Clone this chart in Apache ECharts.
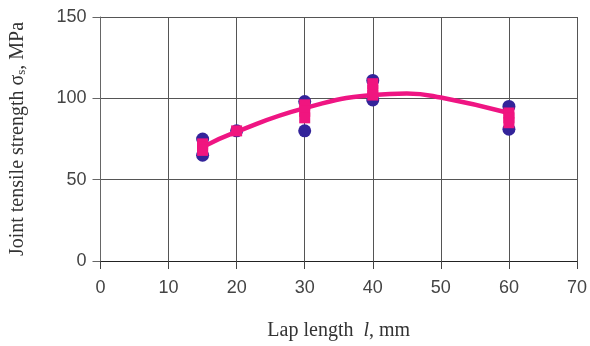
<!DOCTYPE html>
<html><head><meta charset="utf-8">
<script src="https://cdn.jsdelivr.net/npm/echarts@6/dist/echarts.min.js"></script>
<style>html,body{margin:0;padding:0;background:#fff}#c{width:590px;height:346px}</style>
</head><body><div id="c"></div>
<script>
// Individual measurements (blue circles)
const measuredX = [15, 15, 20, 30, 30, 40, 40, 60, 60];
const measuredY = [75, 65, 80, 98, 80, 111, 99, 95, 81];
// Mean markers (pink squares)
const meanX = [15, 15, 15, 20, 30, 30, 30, 40, 40, 40, 60, 60, 60];
const meanY = [72, 70, 68, 80, 96, 92, 88, 109, 105, 102, 91, 88, 85];
// Fitted curve
const fitX = [15, 20, 30, 40, 45, 50, 60];
const fitY = [70, 79.5, 94, 102, 103, 100.5, 91];
const xTicks = [0, 10, 20, 30, 40, 50, 60, 70];
const yTicks = [0, 50, 100, 150];

const zip = (a, b) => a.map((v, i) => [v, b[i]]);
const chart = echarts.init(document.getElementById('c'));
chart.setOption({
  animation: false,
  grid: {left: 97, right: 13, top: 17, bottom: 85},
  xAxis: {
    type: 'value', min: xTicks[0], max: xTicks[xTicks.length - 1], interval: 10,
    name: '{a|Lap length  }{i|l}{a|, mm}', nameLocation: 'middle', nameGap: 60,
    nameTextStyle: {rich: {
      a: {fontFamily: 'Liberation Serif', fontSize: 20, color: '#333'},
      i: {fontFamily: 'Liberation Serif', fontSize: 20, fontStyle: 'italic', color: '#333'}
    }},
    axisLine: {show: true, onZero: false, lineStyle: {color: '#222', width: 1}},
    axisTick: {show: true, length: 8, lineStyle: {color: '#444'}},
    axisLabel: {fontFamily: 'Liberation Sans', fontSize: 18, color: '#444', margin: 18},
    splitLine: {show: true, lineStyle: {color: '#555', width: 1}}
  },
  yAxis: {
    type: 'value', min: yTicks[0], max: yTicks[yTicks.length - 1], interval: 50,
    name: '{a|Joint tensile strength }{b|σ}{c|s}{a|, MPa}', nameLocation: 'middle', nameGap: 72,
    nameTextStyle: {rich: {
      a: {fontFamily: 'Liberation Serif', fontSize: 20, color: '#333'},
      b: {fontFamily: 'Liberation Serif', fontSize: 20, color: '#333'},
      c: {fontFamily: 'Liberation Serif', fontSize: 13, color: '#333', padding: [8, 0, 0, 0]}
    }},
    axisLine: {show: true, lineStyle: {color: '#666', width: 1}},
    axisTick: {show: true, length: 8, lineStyle: {color: '#666'}},
    axisLabel: {fontFamily: 'Liberation Sans', fontSize: 18, color: '#444', margin: 14},
    splitLine: {show: true, lineStyle: {color: '#555', width: 1}}
  },
  series: [
    {type: 'scatter', data: zip(measuredX, measuredY), symbol: 'circle', symbolSize: 13,
     itemStyle: {color: '#33249a', opacity: 1}, z: 2},
    {type: 'line', data: zip(fitX, fitY), smooth: 0.5, showSymbol: false,
     lineStyle: {color: '#ef1583', width: 4.5}, z: 3},
    {type: 'scatter', data: zip(meanX, meanY), symbol: 'rect', symbolSize: 11,
     itemStyle: {color: '#f0157f', opacity: 1}, z: 4}
  ]
});
</script></body></html>
